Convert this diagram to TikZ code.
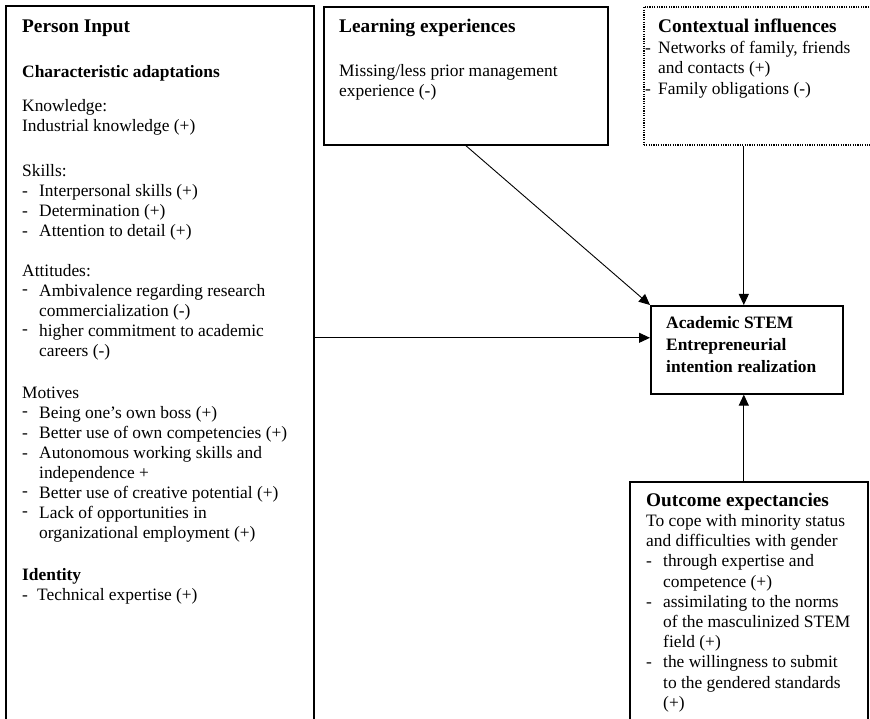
\documentclass[tikz,border=0pt]{standalone}
\usepackage{fontspec}
\setmainfont{Liberation Serif}
\usetikzlibrary{arrows.meta}
\newcommand\itm[1]{\makebox[17pt][l]{-}#1}
\newcommand\ritm[1]{\makebox[17pt][l]{\raisebox{1.5pt}{-}}#1}
\newcommand\cont[1]{\hspace*{17pt}#1}
\newcommand\hd[1]{{\fontsize{19.3}{20}\selectfont\bfseries #1}}
\newcommand\fst{\rule{0pt}{14pt}}
\begin{document}
\begin{tikzpicture}[x=1pt,y=-1pt,
 box/.style={draw, line width=1.6pt, inner sep=0pt, anchor=north west},
 dotbox/.style={draw, line width=1.6pt, dash pattern=on 1.2pt off 1.2pt, inner sep=0pt, anchor=north west},
 txt/.style={anchor=north west, inner sep=0pt, align=left, font=\fontsize{17.4}{20}\selectfont},
 arr/.style={line width=0.9pt, -{Triangle[length=11pt,width=10pt]}}]
\useasboundingbox (0,0) rectangle (870,719);
\clip (0,0) rectangle (870,719);
% boxes
\node[box, minimum width=308pt, minimum height=740pt] (person) at (5,5) {};
\node[box, minimum width=284pt, minimum height=138pt] (learn) at (323,6) {};
\node[dotbox, minimum width=250pt, minimum height=138pt] (context) at (643,6) {};
\node[box, minimum width=192pt, minimum height=88pt] (acad) at (650,305) {};
\node[box, minimum width=238pt, minimum height=260pt] (outcome) at (629,481) {};
% texts
\node[txt] (persontext) at (22,18) {\fst\hd{Person Input}\\[25pt]
\textbf{Characteristic adaptations}\\[14pt]
Knowledge:\\
Industrial knowledge (+)\\[25pt]
Skills:\\
\itm{Interpersonal skills (+)}\\
\itm{Determination (+)}\\
\itm{Attention to detail (+)}\\[20pt]
Attitudes:\\
\ritm{Ambivalence regarding research}\\
\cont{commercialization (-)}\\
\ritm{higher commitment to academic}\\
\cont{careers (-)}\\[22pt]
Motives\\
\ritm{Being one’s own boss (+)}\\
\itm{Better use of own competencies (+)}\\
\itm{Autonomous working skills and}\\
\cont{independence +}\\
\ritm{Better use of creative potential (+)}\\
\ritm{Lack of opportunities in}\\
\cont{organizational employment (+)}\\[22pt]
\textbf{Identity}\\
\makebox[15pt][l]{-}Technical expertise (+)};
\node[txt] (learntext) at (339,18) {\fst\hd{Learning experiences}\\[24pt]
Missing/less prior management\\
experience (-)};
\node[txt, font=\fontsize{17.4}{20.5}\selectfont] (contexttext) at (645,18) {\fst\hspace*{13pt}\hd{Contextual influences}\\[0.5pt]
\makebox[13pt][l]{-}Networks of family, friends\\
\hspace*{13pt}and contacts (+)\\
\makebox[13pt][l]{-}Family obligations (-)};
\node[txt, font=\fontsize{17.4}{22}\selectfont\bfseries] (acadtext) at (666,314) {\fst Academic STEM\\
Entrepreneurial\\
intention realization};
\node[txt, font=\fontsize{17.4}{20.2}\selectfont] (outtext) at (646,492) {\fst\hd{Outcome expectancies}\\
To cope with minority status\\
and difficulties with gender\\
\itm{through expertise and}\\
\cont{competence (+)}\\
\itm{assimilating to the norms}\\
\cont{of the masculinized STEM}\\
\cont{field (+)}\\
\itm{the willingness to submit}\\
\cont{to the gendered standards}\\
\cont{(+)}};
% connectors
\coordinate (pin) at ([yshift=12pt]acad.west);
\draw[arr] (person.east |- pin) -- (pin);
\draw[arr] (learn.south) -- (acad.north west);
\coordinate (ctop) at ([xshift=-3pt]acad.north);
\draw[arr] (context.south -| ctop) -- (ctop);
\coordinate (cbot) at ([xshift=-3pt]acad.south);
\draw[arr] (outcome.north -| cbot) -- (cbot);
\end{tikzpicture}
\end{document}
